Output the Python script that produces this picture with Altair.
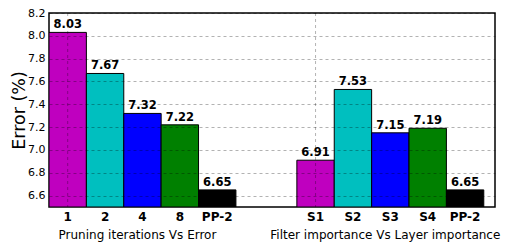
import altair as alt
import pandas as pd

labels_left = ["1", "2", "4", "8", "PP-2"]
values_left = [8.03, 7.67, 7.32, 7.22, 6.65]
labels_right = ["S1", "S2", "S3", "S4", "PP-2"]
values_right = [6.91, 7.53, 7.15, 7.19, 6.65]
colors = ["#bf00bf", "#00bfbf", "#0000ff", "#008000", "#000000"]
group_titles = ["Pruning iterations Vs Error", "Filter importance Vs Layer importance"]
y_ticks = [6.6, 6.8, 7.0, 7.2, 7.4, 7.6, 7.8, 8.0, 8.2]
group_starts = [0.0, 6.63]
x_max = 11.93
y_min, y_max = 6.5, 8.2

rows = []
for g, (labs, vals) in enumerate([(labels_left, values_left), (labels_right, values_right)]):
    for i, (l, v) in enumerate(zip(labs, vals)):
        x0 = group_starts[g] + i
        rows.append({"grp": g, "idx": i, "label": l, "value": v, "x0": x0, "x1": x0 + 1,
                     "xc": x0 + 0.5, "color": colors[i], "txt": f"{v:.2f}"})
df = pd.DataFrame(rows)

titles = pd.DataFrame({
    "title": group_titles,
    "xc": [group_starts[g] + 2.5 for g in range(2)],
})
vgrid = df[df["idx"] == 0]

W, H = 446, 194
xs = alt.Scale(domain=[0, x_max], nice=False, zero=False)
ys = alt.Scale(domain=[y_min, y_max], nice=False, zero=False)

base = alt.Chart(df)

bars = base.mark_bar(stroke="black", strokeWidth=1, clip=True).encode(
    x=alt.X("x0:Q", scale=xs, axis=None),
    x2="x1:Q",
    y=alt.Y("value:Q", scale=ys,
            axis=alt.Axis(values=y_ticks, tickCount=len(y_ticks) + 2, labelOverlap=False,
                          format=".1f", title="Error (%)", titleFontSize=17.5,
                          titleFontWeight="normal", titleFont="DejaVu Sans",
                          titleX=-21, titleColor="black",
                          labelFont="DejaVu Sans", labelFontSize=11, labelColor="black",
                          labelPadding=4, ticks=False, domain=False,
                          grid=True, gridColor="black", gridOpacity=0.3,
                          gridDash=[3, 3], gridWidth=1, zindex=1)),
    y2=alt.datum(y_min),
    color=alt.Color("color:N", scale=None),
)

vrule = alt.Chart(vgrid).mark_rule(color="black", opacity=0.3, strokeDash=[3, 3], strokeWidth=1).encode(
    x=alt.X("xc:Q", scale=xs),
)

vals = base.mark_text(fontWeight="bold", fontSize=11.5, font="DejaVu Sans", baseline="bottom",
                      dy=-2, color="black").encode(
    x=alt.X("xc:Q", scale=xs),
    y=alt.Y("value:Q", scale=ys),
    text="txt:N",
)

xlabels = base.mark_text(fontWeight="bold", fontSize=12, font="DejaVu Sans", baseline="middle",
                         color="black").encode(
    x=alt.X("xc:Q", scale=xs),
    y=alt.value(H + 10),
    text="label:N",
)

gtitles = alt.Chart(titles).mark_text(fontSize=12, font="DejaVu Sans", baseline="middle",
                                      color="black", dx=-5).encode(
    x=alt.X("xc:Q", scale=xs),
    y=alt.value(H + 28),
    text="title:N",
)

chart = alt.layer(bars, vrule, vals, xlabels, gtitles).properties(
    width=W, height=H,
    autosize=alt.AutoSizeParams(type="none"),
    padding={"left": 41, "top": 5, "right": 6, "bottom": 36},
    background="white",
).configure_view(stroke="black", strokeWidth=1.5)

chart.save("out.html", embed_options={"renderer": "svg", "actions": False})
